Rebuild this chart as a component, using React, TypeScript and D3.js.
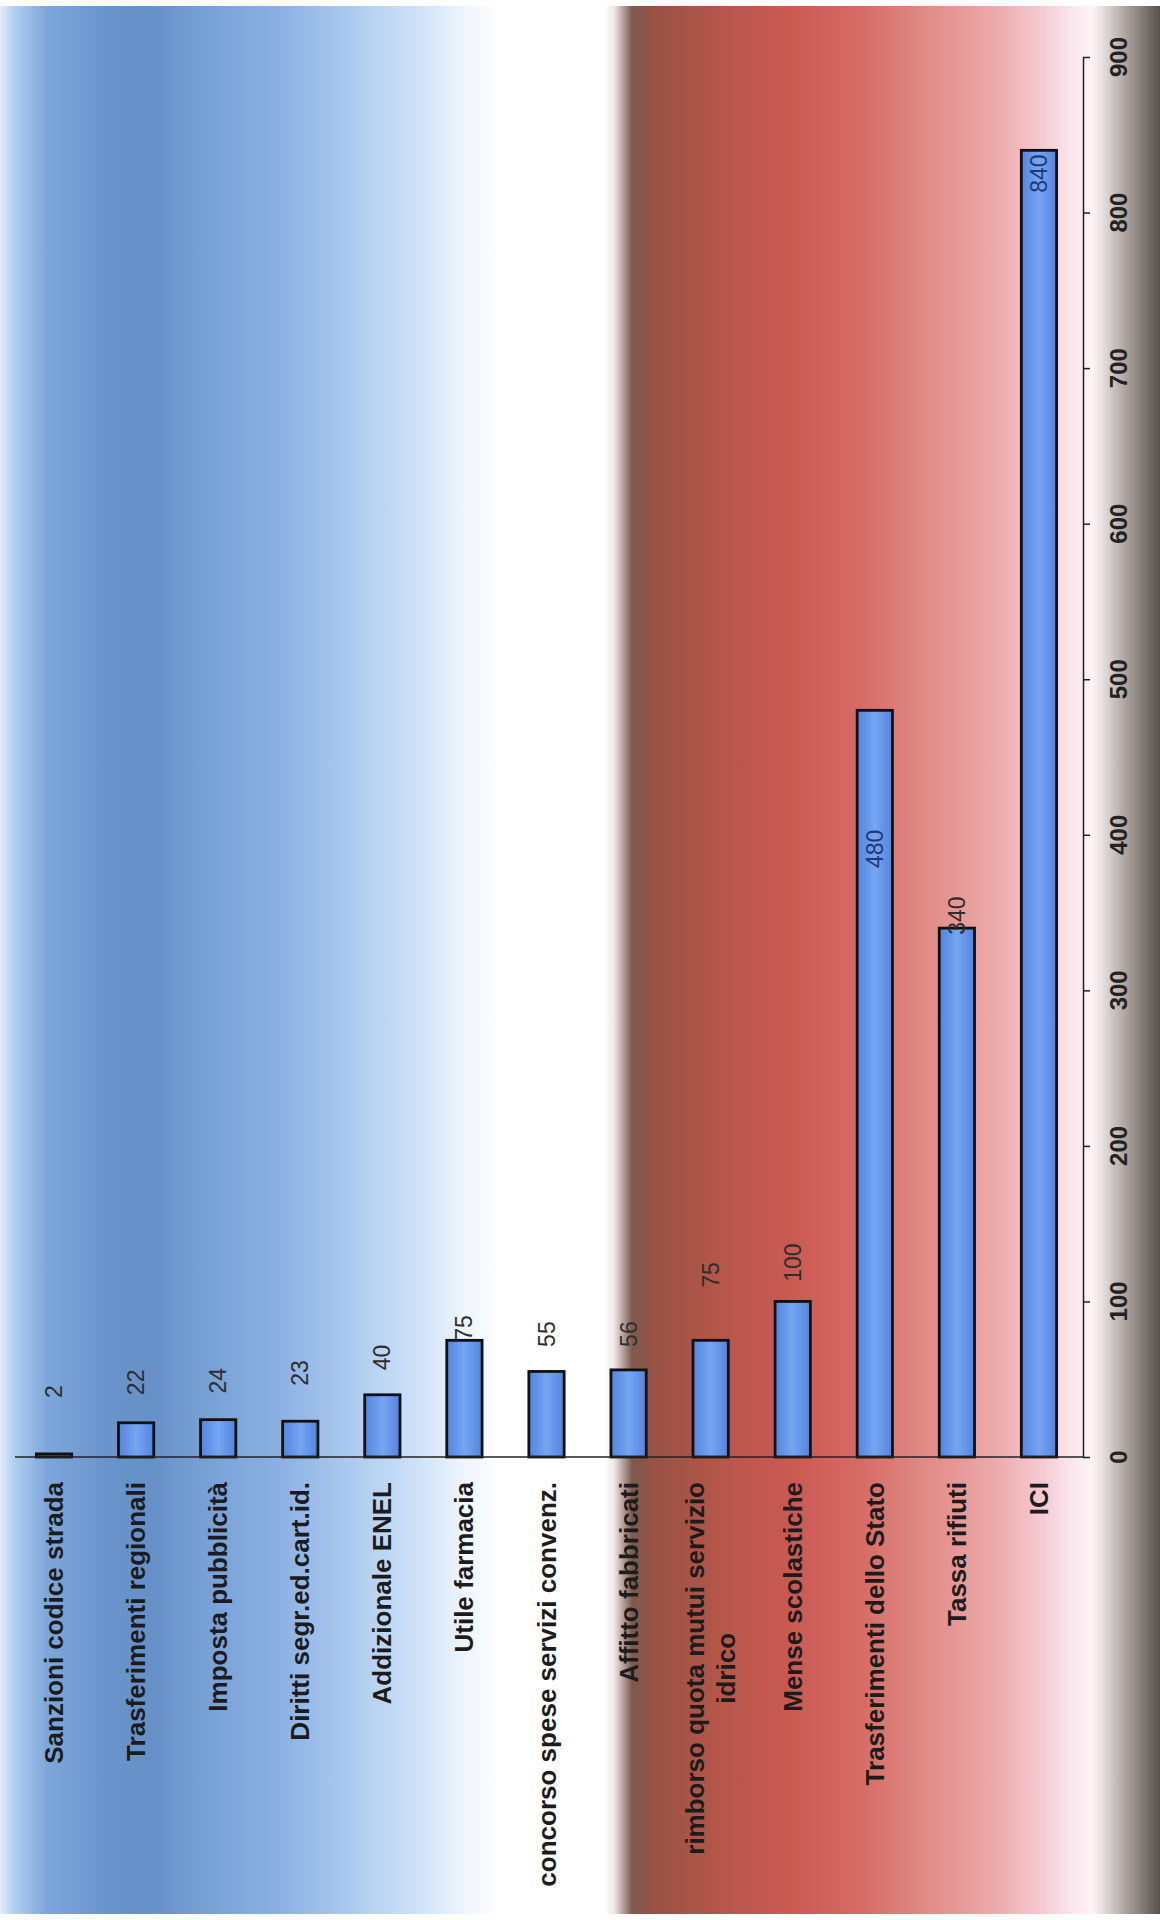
import React, { useRef, useEffect } from 'react';
import * as d3 from 'd3';

const categories = [
  'Sanzioni codice strada',
  'Trasferimenti regionali',
  'Imposta pubblicità',
  'Diritti segr.ed.cart.id.',
  'Addizionale ENEL',
  'Utile farmacia',
  'concorso spese servizi convenz.',
  'Affitto fabbricati',
  'rimborso quota mutui servizio\nidrico',
  'Mense scolastiche',
  'Trasferimenti dello Stato',
  'Tassa rifiuti',
  'ICI',
];
const values = [2, 22, 24, 23, 40, 75, 55, 56, 75, 100, 480, 340, 840];
// where each data label sits, relative to the bar top, in value units
const labelNudge = [40, 26, 25, 31, 24, 8, 24, 23, 42, 25, -89, 8, -15];
const valueTicks = [0, 100, 200, 300, 400, 500, 600, 700, 800, 900];

const W = 1160;
const H = 1920;
const FONT = '"Liberation Sans", Arial, sans-serif';

const BG_STOPS: [number, string][] = [
  [0, '#e4eefa'],
  [14, '#b3cef0'],
  [46, '#7ea8dc'],
  [104, '#6a95cc'],
  [150, '#6590c8'],
  [200, '#769fd4'],
  [280, '#8bb1e3'],
  [350, '#accaef'],
  [420, '#d0e3f8'],
  [465, '#eef5fd'],
  [500, '#ffffff'],
  [604, '#ffffff'],
  [614, '#f0e8e8'],
  [632, '#7c5a50'],
  [655, '#985244'],
  [720, '#b6564a'],
  [790, '#c95a52'],
  [858, '#d66a64'],
  [928, '#e18c88'],
  [992, '#eca8a8'],
  [1044, '#f6ccd4'],
  [1072, '#fbe6ee'],
  [1092, '#fdf4f7'],
  [1106, '#ddd6d6'],
  [1130, '#a19992'],
  [1160, '#57504c'],
];

export default function App() {
  const ref = useRef<SVGSVGElement>(null);

  useEffect(() => {
    if (!ref.current) return;
    const svg = d3.select(ref.current);
    svg.selectAll('*').remove();

    const defs = svg.append('defs');
    const bg = defs.append('linearGradient').attr('id', 'bg')
      .attr('gradientUnits', 'userSpaceOnUse')
      .attr('x1', 0).attr('x2', W).attr('y1', 0).attr('y2', 0);
    BG_STOPS.forEach(([x, c]) => bg.append('stop').attr('offset', x / W).attr('stop-color', c));

    const barGrad = defs.append('linearGradient').attr('id', 'bar')
      .attr('x1', 0).attr('x2', 1).attr('y1', 0).attr('y2', 0);
    barGrad.append('stop').attr('offset', 0).attr('stop-color', '#5384de');
    barGrad.append('stop').attr('offset', 0.5).attr('stop-color', '#76a5f3');
    barGrad.append('stop').attr('offset', 1).attr('stop-color', '#5384de');

    svg.append('rect').attr('x', 0).attr('y', 0).attr('width', W).attr('height', H).attr('fill', '#ffffff');
    svg.append('rect').attr('x', 0).attr('y', 6).attr('width', W).attr('height', 1908).attr('fill', 'url(#bg)');

    const x = d3.scaleBand<number>()
      .domain(d3.range(categories.length))
      .range([13, 1080])
      .paddingInner(0.57)
      .paddingOuter(0.285);
    const y = d3.scaleLinear().domain([0, 900]).range([1457, 57]);
    const axisX = 1083;

    // bars
    svg.append('g').selectAll('rect')
      .data(values)
      .enter()
      .append('rect')
      .attr('x', (_, i) => x(i) as number)
      .attr('y', d => y(d))
      .attr('width', x.bandwidth())
      .attr('height', d => y(0) - y(d))
      .attr('fill', 'url(#bar)')
      .attr('stroke', '#111')
      .attr('stroke-width', 2.8);

    // category baseline
    svg.append('line')
      .attr('x1', 15).attr('x2', axisX)
      .attr('y1', y(0)).attr('y2', y(0))
      .attr('stroke', '#222').attr('stroke-width', 1.5);

    // value axis on the right
    const yAxis = svg.append('g')
      .attr('transform', `translate(${axisX},0)`)
      .call(d3.axisRight(y).tickValues(valueTicks).tickSize(7).tickSizeOuter(0).tickFormat(() => ''));
    yAxis.select('.domain').attr('stroke', '#222').attr('stroke-width', 1.5);
    yAxis.selectAll('line').attr('stroke', '#222').attr('stroke-width', 1.5);

    svg.append('g').selectAll('text')
      .data(valueTicks)
      .enter()
      .append('text')
      .attr('transform', d => `translate(1118,${y(d)}) rotate(-90)`)
      .attr('text-anchor', 'middle')
      .attr('dominant-baseline', 'central')
      .style('font-family', FONT)
      .style('font-size', '24px')
      .style('font-weight', 'bold')
      .attr('fill', '#222')
      .text(d => String(d));

    // data labels
    svg.append('g').selectAll('text')
      .data(values)
      .enter()
      .append('text')
      .attr('transform', (d, i) => `translate(${(x(i) as number) + x.bandwidth() / 2},${y(d + labelNudge[i])}) rotate(-90)`)
      .attr('text-anchor', 'middle')
      .attr('dominant-baseline', 'central')
      .style('font-family', FONT)
      .style('font-size', '23px')
      .attr('fill', (_, i) => (labelNudge[i] < 0 ? '#1f3a78' : '#2e2e2e'))
      .text(d => String(d));

    // category labels, rotated, reading bottom to top
    const lineH = 31;
    const top = 1482;
    categories.forEach((cat, i) => {
      const lines = cat.split('\n');
      const cx = (x(i) as number) + x.bandwidth() / 2;
      const g = svg.append('g').attr('transform', `translate(${cx},${top}) rotate(-90)`);
      const texts = lines.map((ln, j) =>
        g.append('text')
          .attr('y', (j - (lines.length - 1) / 2) * lineH)
          .attr('text-anchor', 'middle')
          .attr('dominant-baseline', 'central')
          .style('font-family', FONT)
          .style('font-size', '26px')
          .style('font-weight', 'bold')
          .attr('fill', '#1c1c1c')
          .text(ln)
      );
      const maxLen = d3.max(texts, t => (t.node() as SVGTextElement).getComputedTextLength()) || 0;
      texts.forEach(t => t.attr('x', -maxLen / 2));
    });
  }, []);

  return (
    <svg
      ref={ref}
      width={W}
      height={H}
      style={{ position: 'absolute', left: 0, top: 0, display: 'block' }}
    />
  );
}
